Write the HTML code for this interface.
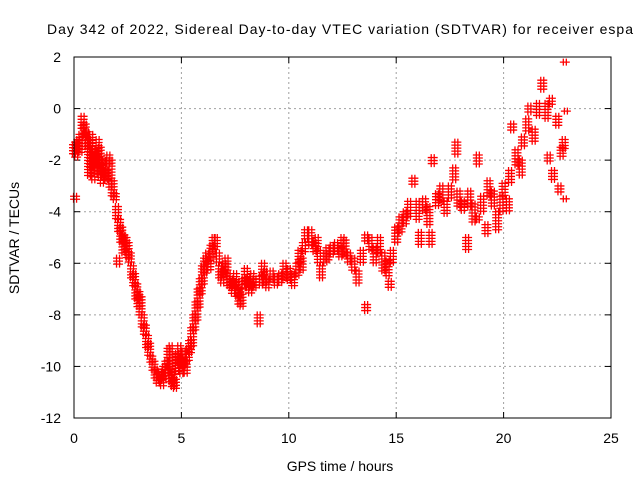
<!DOCTYPE html>
<html><head><meta charset="utf-8"><style>
body{margin:0;background:#fff}
svg{display:block;font-family:"Liberation Sans",sans-serif}
</style></head><body>
<svg id="chart" width="640" height="480" viewBox="0 0 640 480" xmlns="http://www.w3.org/2000/svg">
<rect width="640" height="480" fill="#fff"/>
<text x="47" y="34" font-size="14" textLength="586" lengthAdjust="spacing" fill="#000">Day 342 of 2022, Sidereal Day-to-day VTEC variation (SDTVAR) for receiver espa</text>
<text transform="translate(19,238) rotate(-90)" text-anchor="middle" font-size="14">SDTVAR / TECUs</text>
<text x="340" y="471" text-anchor="middle" font-size="14">GPS time / hours</text>
<g id="grid"></g><g id="ticks"></g><g id="marks"></g>
<rect x="74" y="57" width="537" height="361" fill="none" stroke="#000" stroke-width="1"/>
</svg>
<script>
const xTicks=[0,5,10,15,20,25];
const yTicks=[2,0,-2,-4,-6,-8,-10,-12];
const times=[0.0,0.05,0.1,0.2,0.3,0.4,0.5,0.6,0.7,0.8,0.9,1.0,1.1,1.2,1.3,1.4,1.5,1.6,1.7,1.8,1.9,2.0,2.05,2.1,2.2,2.3,2.4,2.5,2.6,2.7,2.8,2.9,3.0,3.1,3.2,3.3,3.4,3.5,3.6,3.7,3.8,3.9,4.0,4.1,4.2,4.3,4.4,4.5,4.6,4.7,4.8,4.9,5.0,5.1,5.2,5.3,5.4,5.5,5.6,5.7,5.8,5.9,6.0,6.1,6.2,6.3,6.4,6.5,6.6,6.7,6.8,6.9,7.0,7.1,7.2,7.3,7.4,7.5,7.6,7.7,7.8,7.9,8.0,8.1,8.2,8.3,8.4,8.6,8.7,8.8,8.9,9.0,9.2,9.4,9.6,9.8,10.0,10.2,10.4,10.5,10.6,10.7,10.8,11.0,11.2,11.3,11.4,11.5,11.7,11.8,12.0,12.2,12.4,12.5,12.6,12.8,13.0,13.2,13.4,13.6,13.6,13.8,14.0,14.2,14.4,14.6,14.7,14.8,15.0,15.2,15.4,15.6,15.8,16.0,16.1,16.3,16.5,16.6,16.7,16.9,17.1,17.3,17.5,17.7,17.8,17.9,18.1,18.3,18.4,18.6,18.8,18.8,19.0,19.2,19.3,19.5,19.7,19.9,20.0,20.2,20.3,20.4,20.6,20.8,20.9,21.1,21.2,21.4,21.6,21.8,22.0,22.1,22.2,22.3,22.5,22.6,22.7,22.8,22.85,22.85,22.9];
const lows=[-1.8,-3.6,-1.9,-1.6,-1.8,-0.8,-1.1,-1.5,-2.6,-2.3,-2.8,-2.5,-2.2,-2.7,-2.9,-2.6,-2.8,-2.2,-3.1,-3.4,-3.6,-4.3,-6.1,-4.8,-5.2,-5.7,-5.5,-5.8,-6.0,-6.6,-6.9,-7.4,-7.7,-8.0,-8.5,-8.8,-9.3,-9.6,-9.9,-10.2,-10.5,-10.7,-10.6,-10.8,-10.5,-10.3,-10.0,-10.6,-10.8,-10.9,-10.2,-9.9,-10.3,-10.0,-10.3,-9.8,-9.5,-9.2,-8.6,-8.2,-7.7,-7.2,-6.9,-6.4,-6.0,-6.3,-5.8,-5.5,-5.4,-6.0,-6.6,-6.8,-6.5,-6.3,-6.9,-7.0,-7.2,-6.9,-7.3,-7.6,-7.7,-7.0,-6.8,-7.0,-7.2,-6.9,-7.0,-8.4,-6.9,-6.5,-6.8,-7.0,-6.7,-6.9,-6.8,-6.6,-6.7,-6.9,-6.5,-6.0,-6.3,-5.6,-5.1,-5.3,-5.6,-5.4,-6.0,-6.6,-6.0,-5.9,-5.7,-5.6,-5.8,-5.4,-5.7,-6.0,-6.3,-6.8,-6.0,-7.9,-5.2,-5.5,-6.0,-5.6,-6.3,-6.5,-7.0,-6.0,-5.2,-4.8,-4.5,-4.2,-3.0,-4.4,-5.3,-4.0,-4.6,-5.3,-2.2,-3.8,-3.6,-4.1,-3.5,-2.8,-1.8,-3.8,-4.0,-5.5,-3.8,-4.4,-2.2,-4.4,-4.0,-4.9,-3.4,-3.8,-4.7,-4.0,-3.4,-4.0,-2.9,-0.9,-2.2,-2.6,-1.5,-0.9,-0.2,-1.3,-0.3,0.7,-0.4,-2.1,0.1,-2.8,-0.7,-3.3,-1.9,-1.6,1.8,-3.5,-0.1];
const highs=[-1.4,-3.4,-1.3,-1.2,-1.0,-0.3,-0.6,-0.9,-1.2,-1.0,-1.6,-1.8,-1.2,-1.5,-2.2,-2.0,-2.4,-1.8,-2.0,-2.8,-3.3,-3.8,-5.8,-4.3,-4.6,-4.9,-5.0,-5.2,-5.6,-6.1,-6.4,-6.8,-7.1,-7.3,-8.0,-8.4,-8.8,-9.1,-9.6,-9.8,-10.1,-10.3,-10.2,-10.4,-10.0,-9.8,-9.3,-9.2,-10.2,-10.5,-9.5,-9.2,-9.7,-9.4,-9.8,-9.3,-9.0,-8.5,-8.0,-7.5,-7.0,-6.6,-6.1,-5.8,-5.6,-5.9,-5.3,-5.0,-5.0,-5.6,-6.1,-6.3,-6.0,-5.8,-6.4,-6.6,-6.7,-6.4,-6.7,-7.0,-7.2,-6.6,-6.2,-6.6,-6.8,-6.4,-6.6,-8.0,-6.5,-6.0,-6.3,-6.6,-6.3,-6.5,-6.4,-6.0,-6.2,-6.4,-6.0,-5.5,-5.8,-5.2,-4.7,-4.7,-5.2,-5.0,-5.5,-6.1,-5.6,-5.4,-5.3,-5.2,-5.4,-5.0,-5.1,-5.6,-5.8,-6.3,-5.5,-7.6,-4.9,-5.0,-5.4,-5.0,-5.6,-5.9,-6.7,-5.5,-4.6,-4.2,-4.0,-3.6,-2.7,-3.6,-4.8,-3.5,-3.8,-4.8,-1.9,-3.3,-3.0,-3.6,-3.0,-2.3,-1.3,-3.2,-3.6,-5.0,-3.2,-3.7,-1.8,-4.2,-3.4,-4.5,-2.8,-3.2,-4.0,-3.4,-2.9,-3.5,-2.4,-0.6,-1.6,-2.0,-1.1,-0.4,0.1,-0.8,0.2,1.1,0.2,-1.8,0.4,-2.4,-0.3,-3.0,-1.5,-1.2,1.8,-3.5,-0.1];

const X0=74,X1=611,Y0=418,Y1=57,xMin=0,xMax=25,yMin=-12,yMax=2;
const xs=t=>X0+(t-xMin)/(xMax-xMin)*(X1-X0);
const ys=v=>Y0-(v-yMin)/(yMax-yMin)*(Y0-Y1);
const NS="http://www.w3.org/2000/svg";
const grid=document.getElementById('grid'),ticks=document.getElementById('ticks'),marks=document.getElementById('marks');
function mk(tag,attrs,parent){const e=document.createElementNS(NS,tag);for(const k in attrs)e.setAttribute(k,attrs[k]);parent.appendChild(e);return e;}
xTicks.forEach(t=>{
  const x=xs(t);
  if(t>xMin&&t<xMax){const g=mk('line',{x1:x,x2:x,y1:Y1,y2:Y0,stroke:'#a0a0a0','stroke-dasharray':'2,3'},grid);
  
  }
  const a=mk('line',{x1:x,x2:x,y1:Y0,y2:Y0-6,stroke:'#000'},ticks);
  
  
  const b=mk('line',{x1:x,x2:x,y1:Y1,y2:Y1+6,stroke:'#000'},ticks);
  
  
  const l=mk('text',{x:x,y:443,'text-anchor':'middle','font-size':'14'},ticks);l.textContent=t;
  
  
});
yTicks.forEach(v=>{
  const y=ys(v);
  if(v>yMin&&v<yMax){const g=mk('line',{x1:X0,x2:X1,y1:y,y2:y,stroke:'#a0a0a0','stroke-dasharray':'2,3'},grid);
  
  }
  const a=mk('line',{x1:X0,x2:X0+6,y1:y,y2:y,stroke:'#000'},ticks);
  
  
  const b=mk('line',{x1:X1,x2:X1-6,y1:y,y2:y,stroke:'#000'},ticks);
  
  
  const l=mk('text',{x:61,y:y+5,'text-anchor':'end','font-size':'14'},ticks);l.textContent=v;
  
  
});
let d='';
times.forEach((t,i)=>{
  const x=xs(t);const ya=ys(highs[i]),yb=ys(lows[i]);
  for(let y=ya;y<=yb+0.1;y+=3){
    for(const dx of [-1.5,1.5]){const cx=x+dx;d+=`M${cx-3.5},${y}h7M${cx},${y-3.5}v7`;}
  }
});
const p=mk('path',{d:d,stroke:'#ff0000','stroke-width':'1.3',fill:'none'},marks);


</script>
</body></html>
